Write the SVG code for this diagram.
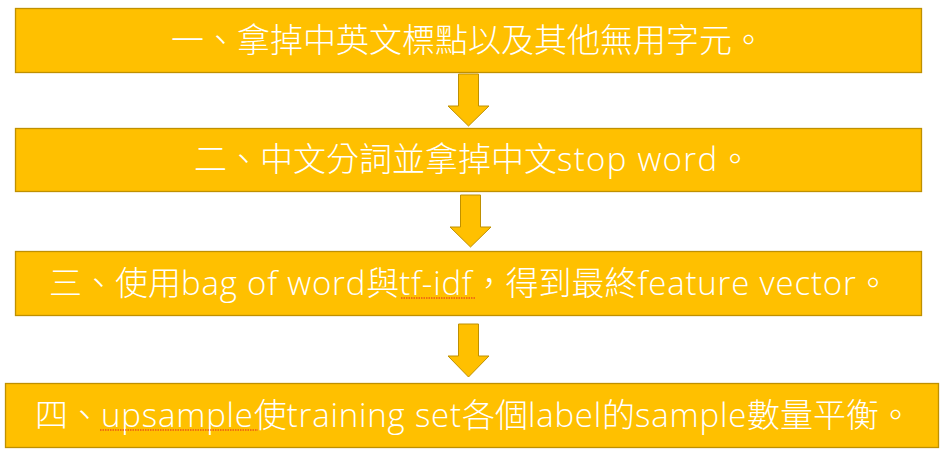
<svg xmlns="http://www.w3.org/2000/svg" width="948" height="466" viewBox="0 0 948 466">
<style>
.box{fill:#FFC000;stroke:#BF9000;stroke-width:1.3}
.arr{fill:#FFC000;stroke:#BF9000;stroke-width:1}
.t{fill:#FFFFFF;font-family:"Open Sans","Noto Sans CJK TC","Noto Sans CJK SC",sans-serif;font-size:33px;font-weight:300}
.l{letter-spacing:0.8px}
.l2{letter-spacing:1.3px}
.sq{fill:none;stroke:#E02020;stroke-width:1;stroke-dasharray:1.5 1}
</style>
<rect width="948" height="466" fill="#FFFFFF"/>
<g id="connectors">
<path class="arr" d="M458.5,74 H478.5 V106 H489 L468.5,126 L448,106 H458.5 Z"/>
<path class="arr" d="M460.5,195 H480.5 V227 H491 L470.5,247 L450,227 H460.5 Z"/>
<path class="arr" d="M458.5,324 H478.5 V356 H489 L468.5,377 L448,356 H458.5 Z"/>
</g>
<g id="step1">
<rect class="box" x="15.5" y="8.5" width="906" height="64"/>
<text class="t" x="171" y="52">一、拿掉中英文標點以及其他無用字元。</text>
</g>
<g id="step2">
<rect class="box" x="15.5" y="128.5" width="906" height="63"/>
<text class="t" x="194" y="171">二、中文分詞並拿掉中文<tspan class="l2">stop word</tspan>。</text>
</g>
<g id="step3">
<rect class="box" x="15.5" y="251.5" width="906" height="64"/>
<text class="t" x="49" y="295">三、使用<tspan class="l">bag of word</tspan>與<tspan class="l">tf-idf</tspan>，得到最終<tspan class="l">feature vector</tspan>。</text>
<path class="sq" d="M401,298 H476"/>
</g>
<g id="step4">
<rect class="box" x="5.5" y="383.5" width="933" height="64"/>
<text class="t" x="35" y="427">四、<tspan class="l">upsample</tspan>使<tspan class="l">training set</tspan>各個<tspan class="l">label</tspan>的<tspan class="l">sample</tspan>數量平衡。</text>
<path class="sq" d="M100,430 H258"/>
</g>
</svg>
